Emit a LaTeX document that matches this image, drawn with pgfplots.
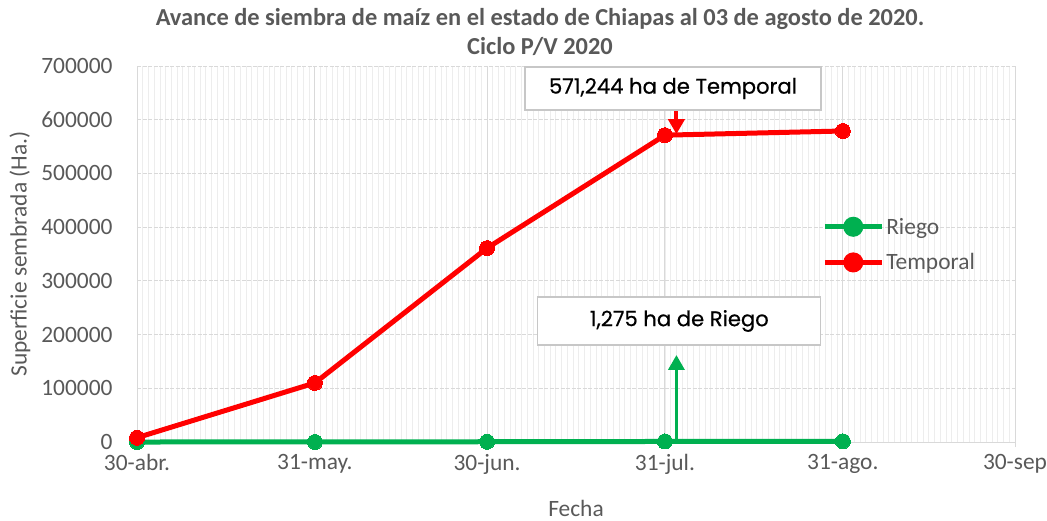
\documentclass[border=0pt]{standalone}
\usepackage{fontspec}
\setmainfont{Carlito}
\newfontfamily\boxfont[FakeBold=0.6]{Poppins}
\usepackage{pgfplots}
\pgfplotsset{compat=1.18}
\usetikzlibrary{arrows.meta}
\definecolor{txtgray}{HTML}{595959}
\definecolor{gridmaj}{HTML}{D9D9D9}
\definecolor{gridmin}{HTML}{EDEDED}
\definecolor{myred}{HTML}{FF0000}
\definecolor{mygreen}{HTML}{00B050}
\begin{document}
\begin{tikzpicture}
\path[use as bounding box] (0bp,0bp) rectangle (1047bp,-521bp);
\begin{axis}[
  at={(137bp,-442bp)}, anchor=south west,
  scale only axis, width=878bp, height=376bp,
  xmin=0, xmax=153, ymin=0, ymax=700000,
  xtick={0,31,61,92,123,153},
  xticklabels={30-abr.,31-may.,30-jun.,31-jul.,31-ago.,30-sep},
  minor xtick={0,1,...,153},
  ytick={0,100000,...,700000},
  scaled y ticks=false,
  yticklabel style={/pgf/number format/fixed,/pgf/number format/1000 sep={}},
  /pgf/number format/assume math mode=true,
  tick label style={font=\fontsize{23.5}{26}\selectfont, text=txtgray},
  xticklabel style={yshift=-3.5bp},
  yticklabel style={xshift=-16bp},
  axis x line*=bottom, axis y line*=left,
  x axis line style={draw=gridmaj, line width=1bp, -},
  y axis line style={draw=none, -},
  xtick style={draw=gridmaj, line width=1bp},
  major tick length=5bp,
  ytick style={draw=none},
  minor tick length=0pt,
  xtick pos=bottom, tick align=outside,
  xmajorgrids, ymajorgrids, xminorgrids,
  major x grid style={draw=gridmaj, line width=1bp},
  major y grid style={draw=gridmaj, line width=1bp, dash pattern=on 4bp off 1.5bp},
  minor x grid style={draw=gridmin, line width=0.9bp},
  xlabel={Fecha},
  ylabel={Superficie sembrada (Ha.)},
  label style={font=\fontsize{23.5}{26}\selectfont, text=txtgray},
  xlabel style={at={(axis description cs:0.5,0)}, anchor=center, yshift=-66bp},
  ylabel style={at={(axis description cs:-0.1333,0.5)}, anchor=center},
  legend style={at={(axis description cs:0.778,0.607)}, anchor=north west, draw=none, fill=none,
    font=\fontsize{23.5}{26}\selectfont, text=txtgray, row sep=14bp, inner sep=2bp},
  legend cell align=left,
  legend image code/.code={
    \draw[#1, mark=none] (0bp,0bp) -- (57bp,0bp);
    \fill[#1] (28.5bp,0bp) circle (7.5bp);
  },
  clip=false,
]
\addplot[mygreen, line width=5bp, mark=*, mark size=7.5bp, mark options={fill=mygreen, draw=mygreen, line width=0bp}]
  coordinates {(0,0) (31,100) (61,500) (92,1000) (123,1275)};
\addlegendentry{Riego}
\addplot[myred, line width=5bp, mark=*, mark size=7.5bp, mark options={fill=myred, draw=myred, line width=0bp}]
  coordinates {(0,8000) (31,110000) (61,361000) (92,571244) (123,579000)};
\addlegendentry{Temporal}
% annotation arrows
\draw[mygreen, line width=3.5bp, -{Triangle[length=15bp,width=16bp]}] (axis cs:94,0) -- (axis cs:94,162000);
\draw[myred, line width=4bp, -{Triangle[length=15bp,width=16bp]}] (axis cs:94,628000) -- (axis cs:94,573000);
\node[draw=gridmaj!80!gray, line width=1.2bp, fill=white, minimum width=296bp, minimum height=43bp, inner sep=0pt,
  font=\boxfont\fontsize{21.2}{24}\selectfont] at (axis cs:93.4,658000) {571,244 ha de Temporal};
\node[draw=gridmaj!80!gray, line width=1.2bp, fill=white, minimum width=283bp, minimum height=48bp, inner sep=0pt,
  font=\boxfont\fontsize{21.2}{24}\selectfont] at (axis cs:94.5,225300) {1,275 ha de Riego};
\end{axis}
\node[align=center, font=\bfseries\fontsize{24.5}{29}\selectfont, text=txtgray] at (540bp,-32bp)
  {Avance de siembra de maíz en el estado de Chiapas al 03 de agosto de 2020.\\Ciclo P/V 2020};
\end{tikzpicture}
\end{document}
